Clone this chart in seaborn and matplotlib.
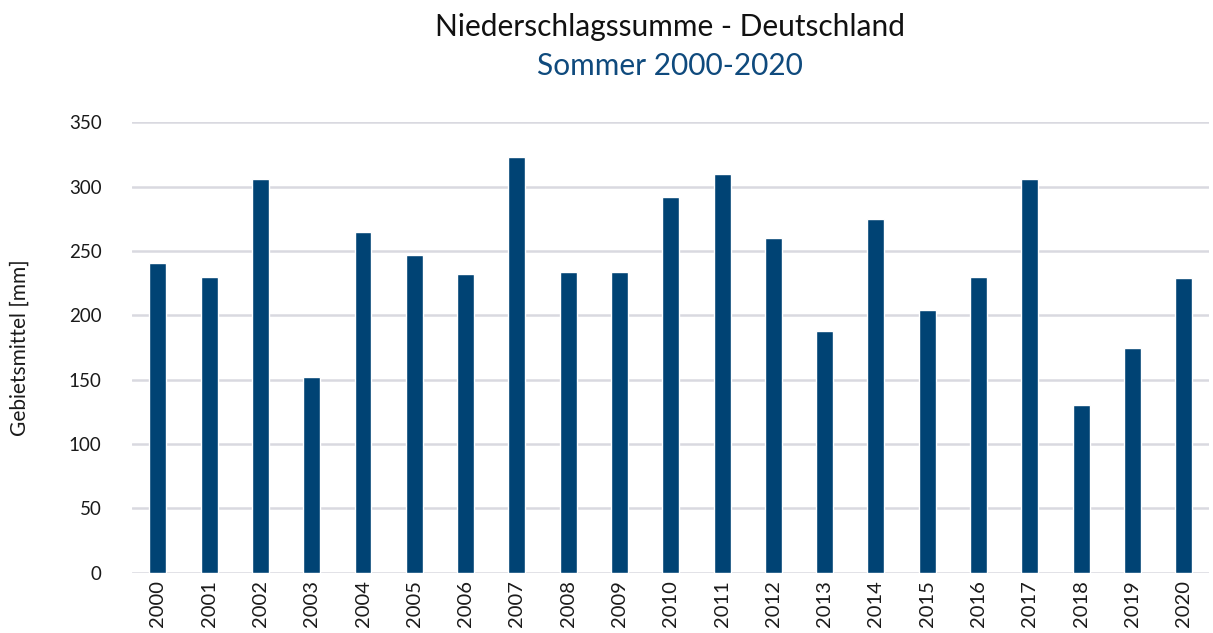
import pandas as pd
import seaborn as sns
from matplotlib import pyplot as plt

years = [str(y) for y in range(2000, 2021)]
niederschlag = [241, 230, 306, 152, 265, 247, 232, 323, 234, 234, 292,
                310, 260, 188, 275, 204, 230, 306, 130, 175, 229]

df = pd.DataFrame({'Jahr': years, 'Niederschlag': niederschlag})

sns.set_theme(style='white')
plt.rcParams['font.family'] = ['Lato', 'DejaVu Sans']

fig = plt.figure(figsize=(12.13, 6.33), dpi=100)
ax = fig.add_axes([0.109, 0.095, 0.888, 0.712])

sns.barplot(data=df, x='Jahr', y='Niederschlag', color='#004374',
            saturation=1, width=0.33, ax=ax, zorder=3)

ax.set_ylim(0, 350)
ax.set_yticks(range(0, 351, 50))
ax.grid(axis='y', color='#d9d9e0', linewidth=1.8, zorder=0)
ax.set_axisbelow(True)
for side in ['top', 'right', 'left', 'bottom']:
    ax.spines[side].set_visible(False)
ax.tick_params(axis='both', length=0, labelsize=13.5, colors='#1a1a1a')
ax.tick_params(axis='x', labelsize=14.5, pad=5)
ax.tick_params(axis='y', pad=22)
plt.setp(ax.get_xticklabels(), rotation=90)
ax.set_xlabel('')
ax.set_ylabel('')
fig.text(0.016, 0.45, 'Gebietsmittel [mm]', rotation=90, ha='center',
         va='center', fontsize=15, color='#1a1a1a')

fig.text(0.552, 0.958, 'Niederschlagssumme - Deutschland', ha='center',
         va='center', fontsize=21.5, color='#111111')
fig.text(0.552, 0.895, 'Sommer 2000-2020', ha='center', va='center',
         fontsize=21.5, color='#0f4a7d')

plt.savefig('out.png', dpi=100)
plt.close()
